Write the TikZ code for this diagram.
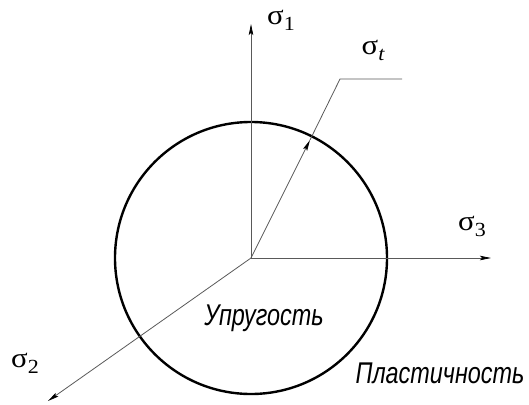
\documentclass[tikz,border=0pt]{standalone}
\usepackage{fontspec}
\newfontfamily\greekfont[FakeStretch=1.1]{Liberation Serif}
\newfontfamily\gostfont[FakeStretch=0.78]{Liberation Sans}
\usetikzlibrary{arrows.meta}
\newcommand{\sig}[1]{{\greekfont\fontsize{28}{28}\selectfont σ\raisebox{-6pt}{\fontsize{20}{20}\selectfont #1}}}
\tikzset{
  axis/.style={line width=0.8pt, draw=black!65, -{Stealth[length=11pt,width=4.5pt,inset=2pt,color=black]}},
  leader/.style={line width=0.8pt, draw=black!65},
  zone/.style={font=\gostfont\itshape\fontsize{30}{30}\selectfont, inner sep=0pt},
}
\begin{document}
\begin{tikzpicture}[x=1pt, y=-1pt]
\useasboundingbox (0,0) rectangle (529,404);
% -- origin and circle --
\coordinate (O) at (251,258);
\draw[line width=2.4pt] (O) circle[radius=136];
% -- principal axes --
\coordinate (s1) at (251,24);
\coordinate (s3) at (491,258);
\coordinate (s2) at (48,401);
\draw[axis] (O) to (s1);
\draw[axis] (O) to (s3);
\draw[axis] (O) to (s2);
% -- stress vector with leader --
\coordinate (tip) at (310,140);
\coordinate (bend) at (340,79);
\coordinate (lend) at (402,79);
\draw[axis] (O) to (tip);
\draw[leader] (tip) to (bend) to (lend);
% -- labels --
\node[inner sep=0pt] (l1) at (281,20) {\sig{1}};
\node[inner sep=0pt] (lt) at (373,50) {\sig{\itshape t}};
\node[inner sep=0pt] (l3) at (472,226) {\sig{3}};
\node[inner sep=0pt] (l2) at (25,363) {\sig{2}};
\node[zone] (el) at (264,318) {Упругость};
\node[zone] (pl) at (440,373) {Пластичность};
\end{tikzpicture}
\end{document}
